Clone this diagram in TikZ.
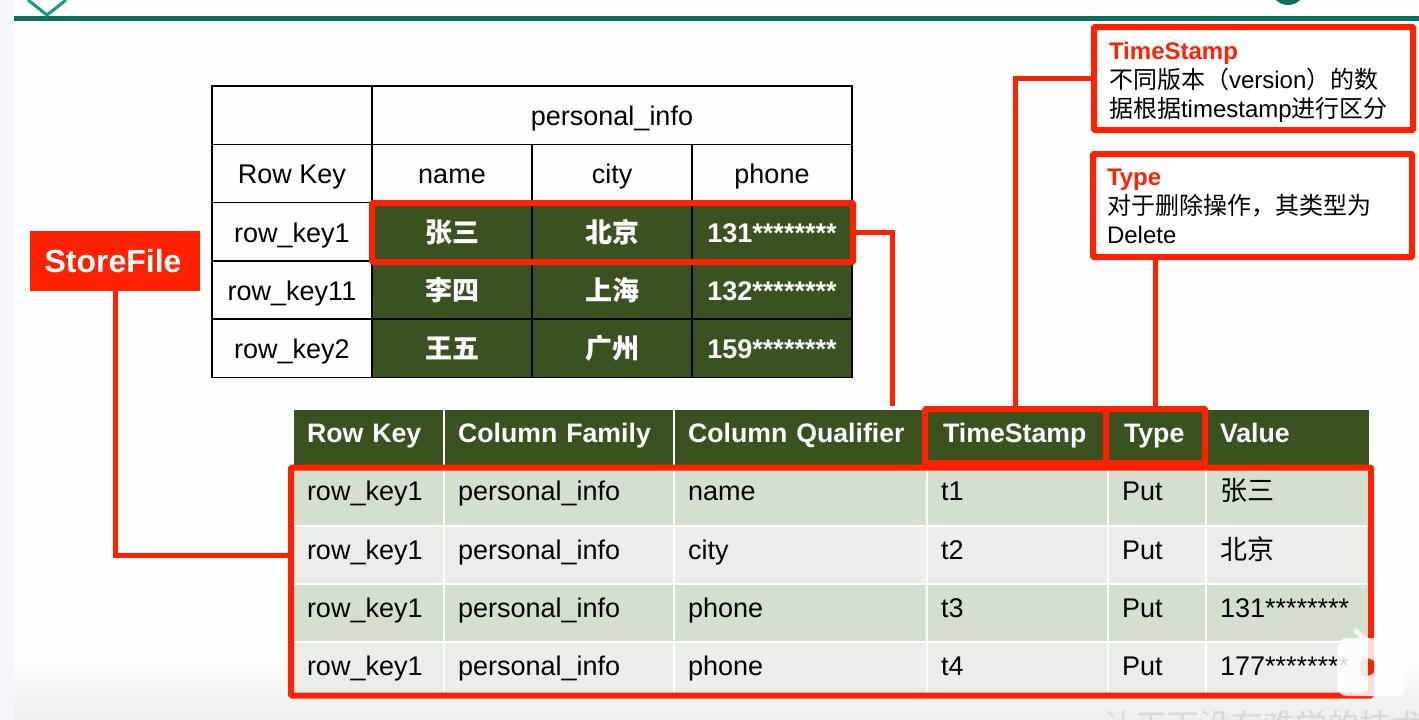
\documentclass[tikz,border=0pt]{standalone}
\usepackage{xcolor}
\usepackage{fontspec}
\setmainfont{Liberation Sans}
\newfontfamily\cjk{Noto Sans CJK SC}
\usetikzlibrary{positioning}

\definecolor{slidebg}{HTML}{FDFEFD}
\definecolor{sidestrip}{HTML}{F5F6FA}
\definecolor{topline}{HTML}{0F6F5F}
\definecolor{chevron}{HTML}{17998A}
\definecolor{cellgreen}{HTML}{3A5220}
\definecolor{rowdark}{HTML}{D3DFCF}
\definecolor{rowlight}{HTML}{E9EFE8}
\definecolor{redline}{HTML}{FF2100}

\begin{document}
\begin{tikzpicture}[
        x=1pt, y=-1pt,
        tabcell/.style={rectangle, draw=black, line width=1.5pt, minimum width=160pt, minimum height=58.3pt, inner sep=0pt, outer sep=0pt, align=center, text height=26.5pt, text depth=6pt, font=\fontsize{27}{32}\selectfont},
        greencell/.style={tabcell, fill=cellgreen, text=white, font=\fontsize{27}{32}\selectfont\bfseries},
        famhead/.style={rectangle, draw=white, line width=1.5pt, fill=cellgreen, text=white, inner xsep=14pt, inner ysep=0pt, outer sep=0pt, align=left, text width=#1, minimum height=57pt, text height=16pt, text depth=6pt, font=\fontsize{26.7}{32}\selectfont\bfseries},
        famdark/.style={famhead=#1, fill=rowdark, text=black, minimum height=58pt, text height=14pt, font=\fontsize{27}{32}\selectfont},
        famtop/.style={famdark=#1, minimum height=60pt},
        famlight/.style={famdark=#1, fill=rowlight},
        famlast/.style={famlight=#1, minimum height=56pt, text height=16pt},
        redbox/.style={rectangle, draw=redline, line width=6pt, rounded corners=1pt, inner sep=0pt, outer sep=0pt},
        callout/.style={redbox, fill=white, align=left, inner xsep=14pt, text width=291pt, minimum height=103pt, font=\fontsize{24}{29}\selectfont},
        redlink/.style={draw=redline, line width=5pt}
    ]
        \useasboundingbox (0,0) rectangle (1419,720);

        % slide background
        \fill[slidebg] (0,0) rectangle (1419,720);
        \shade[top color=slidebg, bottom color=black!7] (0,660) rectangle (1419,720);
        \fill[sidestrip] (0,0) rectangle (14,720);
        \fill[topline] (14,16) rectangle (1419,21);
        \draw[chevron, line width=3pt] (28,0) -- (47,15) -- (66,0);
        \begin{scope}
            \clip (0,0) rectangle (1419,720);
            \fill[topline] (1288,-12) circle (17);
            \node[anchor=north west, inner sep=0pt, text=black!15, font=\fontsize{32}{32}\selectfont\cjk] (slogan) at (1103,710) {让天下没有难学的技术};
        \end{scope}

        % upper table
        \node[tabcell, anchor=north west] (corner) at (212,86) {};
        \node[tabcell, below=0pt of corner] (rowkey) {Row Key};
        \node[tabcell, below=0pt of rowkey] (keya) {row\_key1};
        \node[tabcell, below=0pt of keya] (keyb) {row\_key11};
        \node[tabcell, below=0pt of keyb] (keyc) {row\_key2};
        \node[tabcell, minimum width=480pt, right=0pt of corner] (family) {personal\_info};
        \node[tabcell, right=0pt of rowkey] (name) {name};
        \node[tabcell, right=0pt of name] (city) {city};
        \node[tabcell, right=0pt of city] (phone) {phone};
        \node[greencell, right=0pt of keya] (namea) {\cjk 张三};
        \node[greencell, right=0pt of namea] (citya) {\cjk 北京};
        \node[greencell, right=0pt of citya] (phonea) {131********};
        \node[greencell, right=0pt of keyb] (nameb) {\cjk 李四};
        \node[greencell, right=0pt of nameb] (cityb) {\cjk 上海};
        \node[greencell, right=0pt of cityb] (phoneb) {132********};
        \node[greencell, right=0pt of keyc] (namec) {\cjk 王五};
        \node[greencell, right=0pt of namec] (cityc) {\cjk 广州};
        \node[greencell, right=0pt of cityc] (phonec) {159********};

        % lower table
        \node[famhead=123pt, anchor=north west] (hkey) at (293,409) {Row Key};
        \node[famhead=202pt, right=0pt of hkey] (hfam) {Column Family};
        \node[famhead=225pt, right=0pt of hfam] (hqual) {Column Qualifier};
        \node[famhead=153pt, right=0pt of hqual] (hstamp) {\hspace*{2pt}TimeStamp};
        \node[famhead=70pt, right=0pt of hstamp] (htype) {\hspace*{2pt}Type};
        \node[famhead=136pt, right=0pt of htype] (hval) {Value};

        \node[famtop=123pt, below=0pt of hkey] (keyr) {row\_key1};
        \node[famtop=202pt, right=0pt of keyr] (famr) {personal\_info};
        \node[famtop=225pt, right=0pt of famr] (qualr) {name};
        \node[famtop=153pt, right=0pt of qualr] (stampr) {t1};
        \node[famtop=70pt, right=0pt of stampr] (typer) {Put};
        \node[famtop=136pt, right=0pt of typer] (valr) {\cjk 张三};

        \node[famlight=123pt, below=0pt of keyr] (keys) {row\_key1};
        \node[famlight=202pt, right=0pt of keys] (fams) {personal\_info};
        \node[famlight=225pt, right=0pt of fams] (quals) {city};
        \node[famlight=153pt, right=0pt of quals] (stamps) {t2};
        \node[famlight=70pt, right=0pt of stamps] (types) {Put};
        \node[famlight=136pt, right=0pt of types] (vals) {\cjk 北京};

        \node[famdark=123pt, below=0pt of keys] (keyt) {row\_key1};
        \node[famdark=202pt, right=0pt of keyt] (famt) {personal\_info};
        \node[famdark=225pt, right=0pt of famt] (qualt) {phone};
        \node[famdark=153pt, right=0pt of qualt] (stampt) {t3};
        \node[famdark=70pt, right=0pt of stampt] (typet) {Put};
        \node[famdark=136pt, right=0pt of typet] (valt) {131********};

        \node[famlast=123pt, below=0pt of keyt] (keyu) {row\_key1};
        \node[famlast=202pt, right=0pt of keyu] (famu) {personal\_info};
        \node[famlast=225pt, right=0pt of famu] (qualu) {phone};
        \node[famlast=153pt, right=0pt of qualu] (stampu) {t4};
        \node[famlast=70pt, right=0pt of stampu] (typeu) {Put};
        \node[famlast=136pt, right=0pt of typeu] (valu) {177********};

        % red marks
        \node[redbox, minimum width=481pt, minimum height=59pt] (rowbox) at (612.5,232.5) {};
        \node[redbox, minimum width=181pt, minimum height=54pt] (stampbox) at (1015.5,436) {};
        \node[redbox, minimum width=99pt, minimum height=54pt] (typebox) at (1155.5,436) {};
        \node[redbox, minimum width=1080pt, minimum height=228pt] (storebox) at (831,581.5) {};
        \node[rectangle, fill=redline, text=white, minimum width=170pt, minimum height=60pt, inner sep=0pt, outer sep=0pt, text height=29pt, text depth=6pt, font=\fontsize{32}{36}\selectfont\bfseries] (storefile) at (115,261) {\hspace*{-4pt}StoreFile};
        \node[callout, inner xsep=15pt, text width=289pt] (stampnote) at (1253.5,78.5) {\rule{0pt}{24pt}{\bfseries\color{redline}TimeStamp}\\{\cjk 不同版本（}version{\cjk ）的数}\\{\cjk 据根据}timestamp{\cjk 进行区分}};
        \node[callout] (typenote) at (1252.5,205.5) {\rule{0pt}{19pt}{\bfseries\color{redline}Type}\\{\cjk 对于删除操作，其类型为}\\Delete};

        \coordinate (rowend) at (892,406);
        \draw[redlink] (storefile.south) |- ([yshift=26pt]storebox.west);
        \draw[redlink] (rowbox.east) -| (rowend);
        \draw[redlink] (stampbox.north) |- (stampnote.west);
        \draw[redlink] (typebox.north) -- (typebox.north |- typenote.south);

        % player badge
        \fill[white, opacity=0.85, even odd rule, rounded corners=10pt] (1337,638) rectangle (1405,696)
            (1360,654) -- (1386,667) -- (1360,680) -- cycle;
        \draw[white, opacity=0.85, line width=5pt, line cap=round] (1356,631) -- (1365,640);
        \draw[white, opacity=0.85, line width=5pt, line cap=round] (1386,631) -- (1377,640);
    \end{tikzpicture}
\end{document}
